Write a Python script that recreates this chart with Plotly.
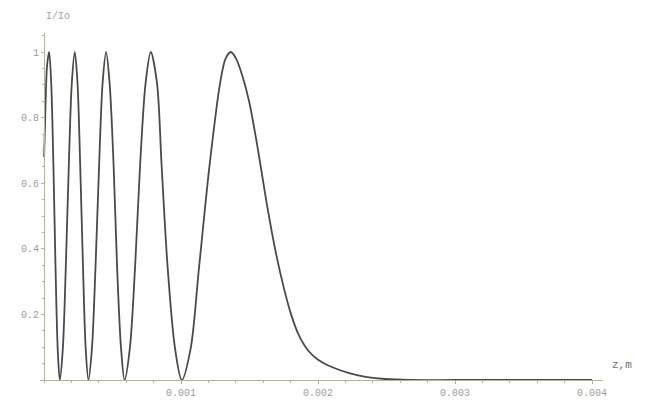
import plotly.graph_objects as go

# Relative intensity I/Io along the propagation coordinate z (metres)
z_m = [
    0.0, 0.00001095, 0.0000219, 0.0000365, 0.0000518, 0.0000679, 0.0000832, 0.0000993, 0.0001146,
    0.0001365, 0.0001584, 0.0001803, 0.0002022, 0.0002241, 0.0002438, 0.0002635, 0.0002839, 0.0003036, 0.0003234,
    0.0003489, 0.0003752, 0.0004015, 0.0004270, 0.0004526, 0.0004781, 0.0005073, 0.0005328, 0.0005620, 0.0005876,
    0.0006255, 0.0006642, 0.0007007, 0.0007409, 0.0007788, 0.0008241, 0.0008577, 0.0009015, 0.0009562, 0.0010051,
    0.0010693, 0.0011314, 0.0012080, 0.0012847, 0.0013248, 0.0013628, 0.0014015, 0.0014453, 0.0014964,
    0.0015620, 0.0016204, 0.0016861, 0.0017445, 0.0018029, 0.0018613, 0.0019270, 0.0020000, 0.0021095,
    0.0022336, 0.0023577, 0.0024891, 0.0026715, 0.0030, 0.0035, 0.0040,
]
intensity = [
    0.68, 0.85, 0.96, 1.0, 0.905, 0.655, 0.345, 0.095, 0.0,
    0.095, 0.345, 0.655, 0.905, 1.0, 0.905, 0.655, 0.345, 0.095, 0.0,
    0.095, 0.345, 0.655, 0.905, 1.0, 0.905, 0.655, 0.345, 0.095, 0.0,
    0.095, 0.345, 0.655, 0.905, 1.0, 0.905, 0.655, 0.345, 0.095, 0.0,
    0.095, 0.345, 0.655, 0.905, 0.98, 1.0, 0.98, 0.93, 0.85,
    0.70, 0.55, 0.40, 0.29, 0.20, 0.135, 0.09, 0.062, 0.038,
    0.02, 0.009, 0.003, 0.0, 0.0, 0.0, 0.0,
]

x_ticks = [0.001, 0.002, 0.003, 0.004]
x_tick_text = ["0.001", "0.002", "0.003", "0.004"]
y_ticks = [0.2, 0.4, 0.6, 0.8, 1.0]
y_tick_text = ["0.2", "0.4", "0.6", "0.8", "1"]

axis_color = "#b0b596"
label_font = dict(family="Liberation Mono", size=10, color="#9c9c9c")

fig = go.Figure(
    go.Scatter(
        x=z_m, y=intensity, mode="lines",
        line=dict(color="#4a4a46", width=1.8, shape="spline", smoothing=0.9),
        hoverinfo="skip",
    )
)

x_lo, x_hi = -0.00003, 0.00408
y_axis_pos = (0 - x_lo) / (x_hi - x_lo)

fig.update_layout(
    width=656, height=410,
    margin=dict(l=40, r=53, t=33, b=30),
    paper_bgcolor="white", plot_bgcolor="white",
    showlegend=False,
    xaxis=dict(
        range=[x_lo, x_hi], showgrid=False, zeroline=False,
        showline=True, linecolor=axis_color, linewidth=1.2,
        tickvals=x_ticks, ticktext=x_tick_text, tickfont=label_font,
        ticks="outside", ticklen=3, tickcolor=axis_color,
        minor=dict(ticks="outside", ticklen=2, dtick=0.0002, tick0=0, tickcolor=axis_color),
    ),
    yaxis=dict(
        range=[0, 1.058], showgrid=False, zeroline=False,
        anchor="free", position=y_axis_pos,
        showline=True, linecolor=axis_color, linewidth=1.2,
        tickvals=y_ticks, ticktext=y_tick_text, tickfont=label_font,
        ticks="outside", ticklen=3, tickcolor=axis_color,
        minor=dict(ticks="outside", ticklen=2, dtick=0.05, tick0=0, tickcolor=axis_color),
    ),
    annotations=[
        dict(text="I/Io", xref="paper", yref="paper", x=y_axis_pos, y=1.068,
             showarrow=False, font=dict(family="Liberation Mono", size=10, color="#a0a0a0")),
        dict(text="z,m", xref="paper", yref="paper", x=1.012, y=0.02, xanchor="left",
             showarrow=False, font=dict(family="Liberation Mono", size=11, color="#707070")),
    ],
)

fig.write_html("out.html")
